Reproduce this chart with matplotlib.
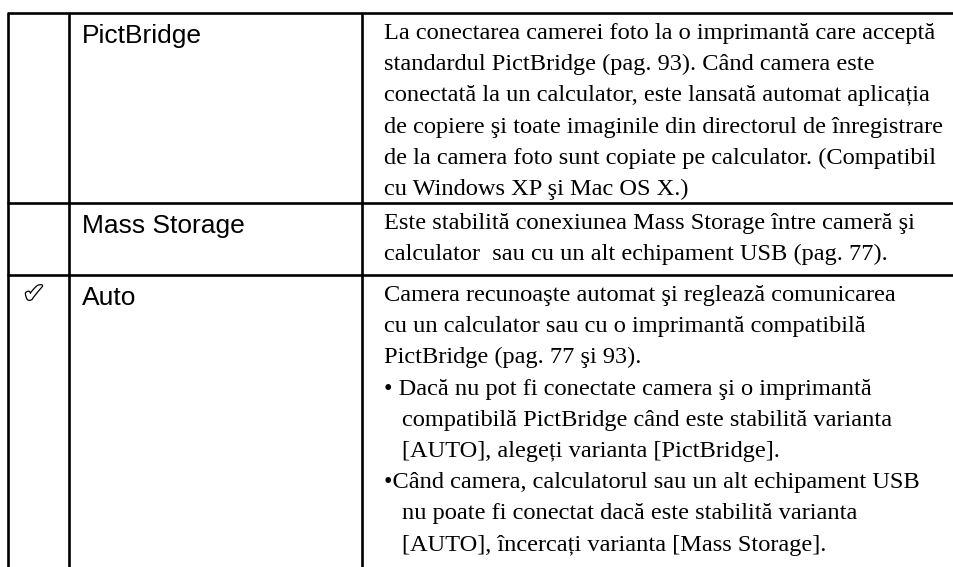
import matplotlib
matplotlib.use("Agg")
import matplotlib.pyplot as plt
import matplotlib.patheffects as pe

# ---- data ----
marks = ["", "", "\u2714"]
options = ["PictBridge", "Mass Storage", "Auto"]
descriptions = [
    ["La conectarea camerei foto la o imprimantă care acceptă",
     "standardul PictBridge (pag. 93). Când camera este",
     "conectată la un calculator, este lansată automat aplicația",
     "de copiere şi toate imaginile din directorul de înregistrare",
     "de la camera foto sunt copiate pe calculator. (Compatibil",
     "cu Windows XP şi Mac OS X.)"],
    ["Este stabilită conexiunea Mass Storage între cameră şi",
     "calculator  sau cu un alt echipament USB (pag. 77)."],
    ["Camera recunoaşte automat şi reglează comunicarea",
     "cu un calculator sau cu o imprimantă compatibilă",
     "PictBridge (pag. 77 şi 93).",
     "• Dacă nu pot fi conectate camera şi o imprimantă",
     "  compatibilă PictBridge când este stabilită varianta",
     "  [AUTO], alegeți varianta [PictBridge].",
     "•Când camera, calculatorul sau un alt echipament USB",
     "  nu poate fi conectat dacă este stabilită varianta",
     "  [AUTO], încercați varianta [Mass Storage]."],
]

# ---- layout (pixels) ----
W, H = 954, 567
row_tops = [13, 203, 275]
col_x = [8, 69, 362]
line_h = 31.2
serif_base = 26
sans_base = 30
lw = 1.9

fig = plt.figure(figsize=(W / 100, H / 100), dpi=100)
ax = fig.add_axes([0, 0, 1, 1])
ax.set_xlim(0, W)
ax.set_ylim(H, 0)
ax.axis("off")

for y in row_tops:
    ax.plot([col_x[0] - 1, W], [y, y], color="black", lw=lw, solid_capstyle="butt")
for x in col_x:
    ax.plot([x, x], [row_tops[0], H], color="black", lw=lw, solid_capstyle="butt")

for i, top in enumerate(row_tops):
    if marks[i]:
        ax.text(34, top + 27, marks[i], fontsize=19, color="white",
                family="DejaVu Sans", va="baseline", ha="center",
                path_effects=[pe.Stroke(linewidth=1.8, foreground="black"), pe.Normal()])
    ax.text(82, top + sans_base, options[i], fontsize=19, family="Liberation Sans",
            va="baseline", ha="left", color="black")
    for j, line in enumerate(descriptions[i]):
        x = 384
        if line.startswith("  "):
            line = line.strip()
            x = 402
        ax.text(x, top + serif_base + j * line_h, line, fontsize=17.6,
                family="Liberation Serif", va="baseline", ha="left", color="black")

fig.savefig("out.png", dpi=100)
